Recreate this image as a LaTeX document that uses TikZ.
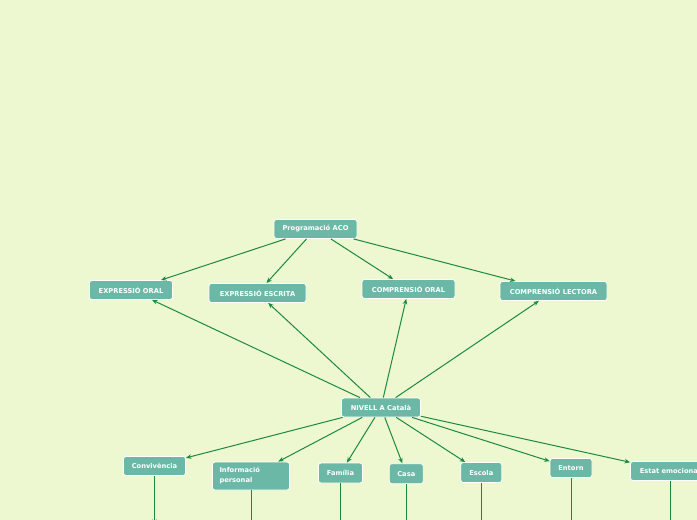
\documentclass[tikz,border=0pt]{standalone}
\usepackage{fontspec}
\newfontfamily\nodefont{DejaVu Sans}
\usetikzlibrary{arrows.meta}
\definecolor{bgc}{RGB}{238,248,208}
\definecolor{boxc}{RGB}{108,184,166}
\definecolor{linec}{RGB}{26,138,62}
\tikzset{
  box/.style={draw=white, line width=0.8pt, fill=boxc, rounded corners=2.5pt,
    text=white, font=\nodefont\bfseries\fontsize{6.7}{8}\selectfont,
    minimum height=19pt, inner xsep=2pt, inner ysep=1pt},
  conn/.style={draw=linec, line width=1pt, -{Stealth[length=5.5pt,width=4.5pt]}},
  down/.style={draw=linec, line width=1pt}
}
\begin{document}
\begin{tikzpicture}[x=1pt,y=-1pt]
\fill[bgc] (0,0) rectangle (697,520);
\useasboundingbox (0,0) rectangle (697,520);
\clip (0,0) rectangle (697,520);

\node[box, minimum width=83pt] (prog) at (315.5,229) {Programació ACO};
\node[box, minimum width=83pt] (eo) at (131,290) {EXPRESSIÓ ORAL};
\node[box, minimum width=97pt] (ee) at (257.5,293) {EXPRESSIÓ ESCRITA};
\node[box, minimum width=93pt] (co) at (408.5,289) {COMPRENSIÓ ORAL};
\node[box, minimum width=107pt] (cl) at (553.5,291) {COMPRENSIÓ LECTORA};
\node[box, minimum width=79pt] (niv) at (381,407.5) {NIVELL A Català};

\node[box, minimum width=62pt] (conv) at (154.5,466) {Convivència};
\node[box, minimum width=77pt, minimum height=28pt, align=left, text width=63pt, inner xsep=7pt,
  font=\nodefont\bfseries\fontsize{6.7}{10}\selectfont] (info) at (251,476) {Informació\\personal};
\node[box, minimum width=44pt, minimum height=20pt] (fam) at (340.5,473) {Família};
\node[box, minimum width=34pt, minimum height=20pt] (casa) at (406.3,473.7) {Casa};
\node[box, minimum width=41pt, minimum height=20pt] (esc) at (481.3,472.5) {Escola};
\node[box, minimum width=42pt] (ent) at (571,468) {Entorn};
\node[box, minimum width=79pt] (est) at (670,471) {Estat emocional};

\draw[conn] (prog) -- (eo);
\draw[conn] (prog) -- (ee);
\draw[conn] (prog) -- (co);
\draw[conn] (prog) -- (cl);

\draw[conn] (niv) -- (eo);
\draw[conn] (niv) -- (ee);
\draw[conn] (niv) -- (co);
\draw[conn] (niv) -- (cl);

\draw[conn] (niv) -- (conv);
\draw[conn] (niv) -- (info);
\draw[conn] (niv) -- (fam);
\draw[conn] (niv) -- (casa);
\draw[conn] (niv) -- (esc);
\draw[conn] (niv) -- (ent);
\draw[conn] (niv) -- (est);

\coordinate (cconv) at (154.5,525);
\coordinate (cinfo) at (251,545);
\coordinate (cfam) at (340.5,545);
\coordinate (ccasa) at (406.3,545);
\coordinate (cesc) at (481.3,545);
\coordinate (cent) at (571,545);
\coordinate (cest) at (670,545);
\draw[conn] (conv) -- (cconv);
\draw[conn] (info) -- (cinfo);
\draw[conn] (fam) -- (cfam);
\draw[conn] (casa) -- (ccasa);
\draw[conn] (esc) -- (cesc);
\draw[conn] (ent) -- (cent);
\draw[conn] (est) -- (cest);
\end{tikzpicture}
\end{document}
